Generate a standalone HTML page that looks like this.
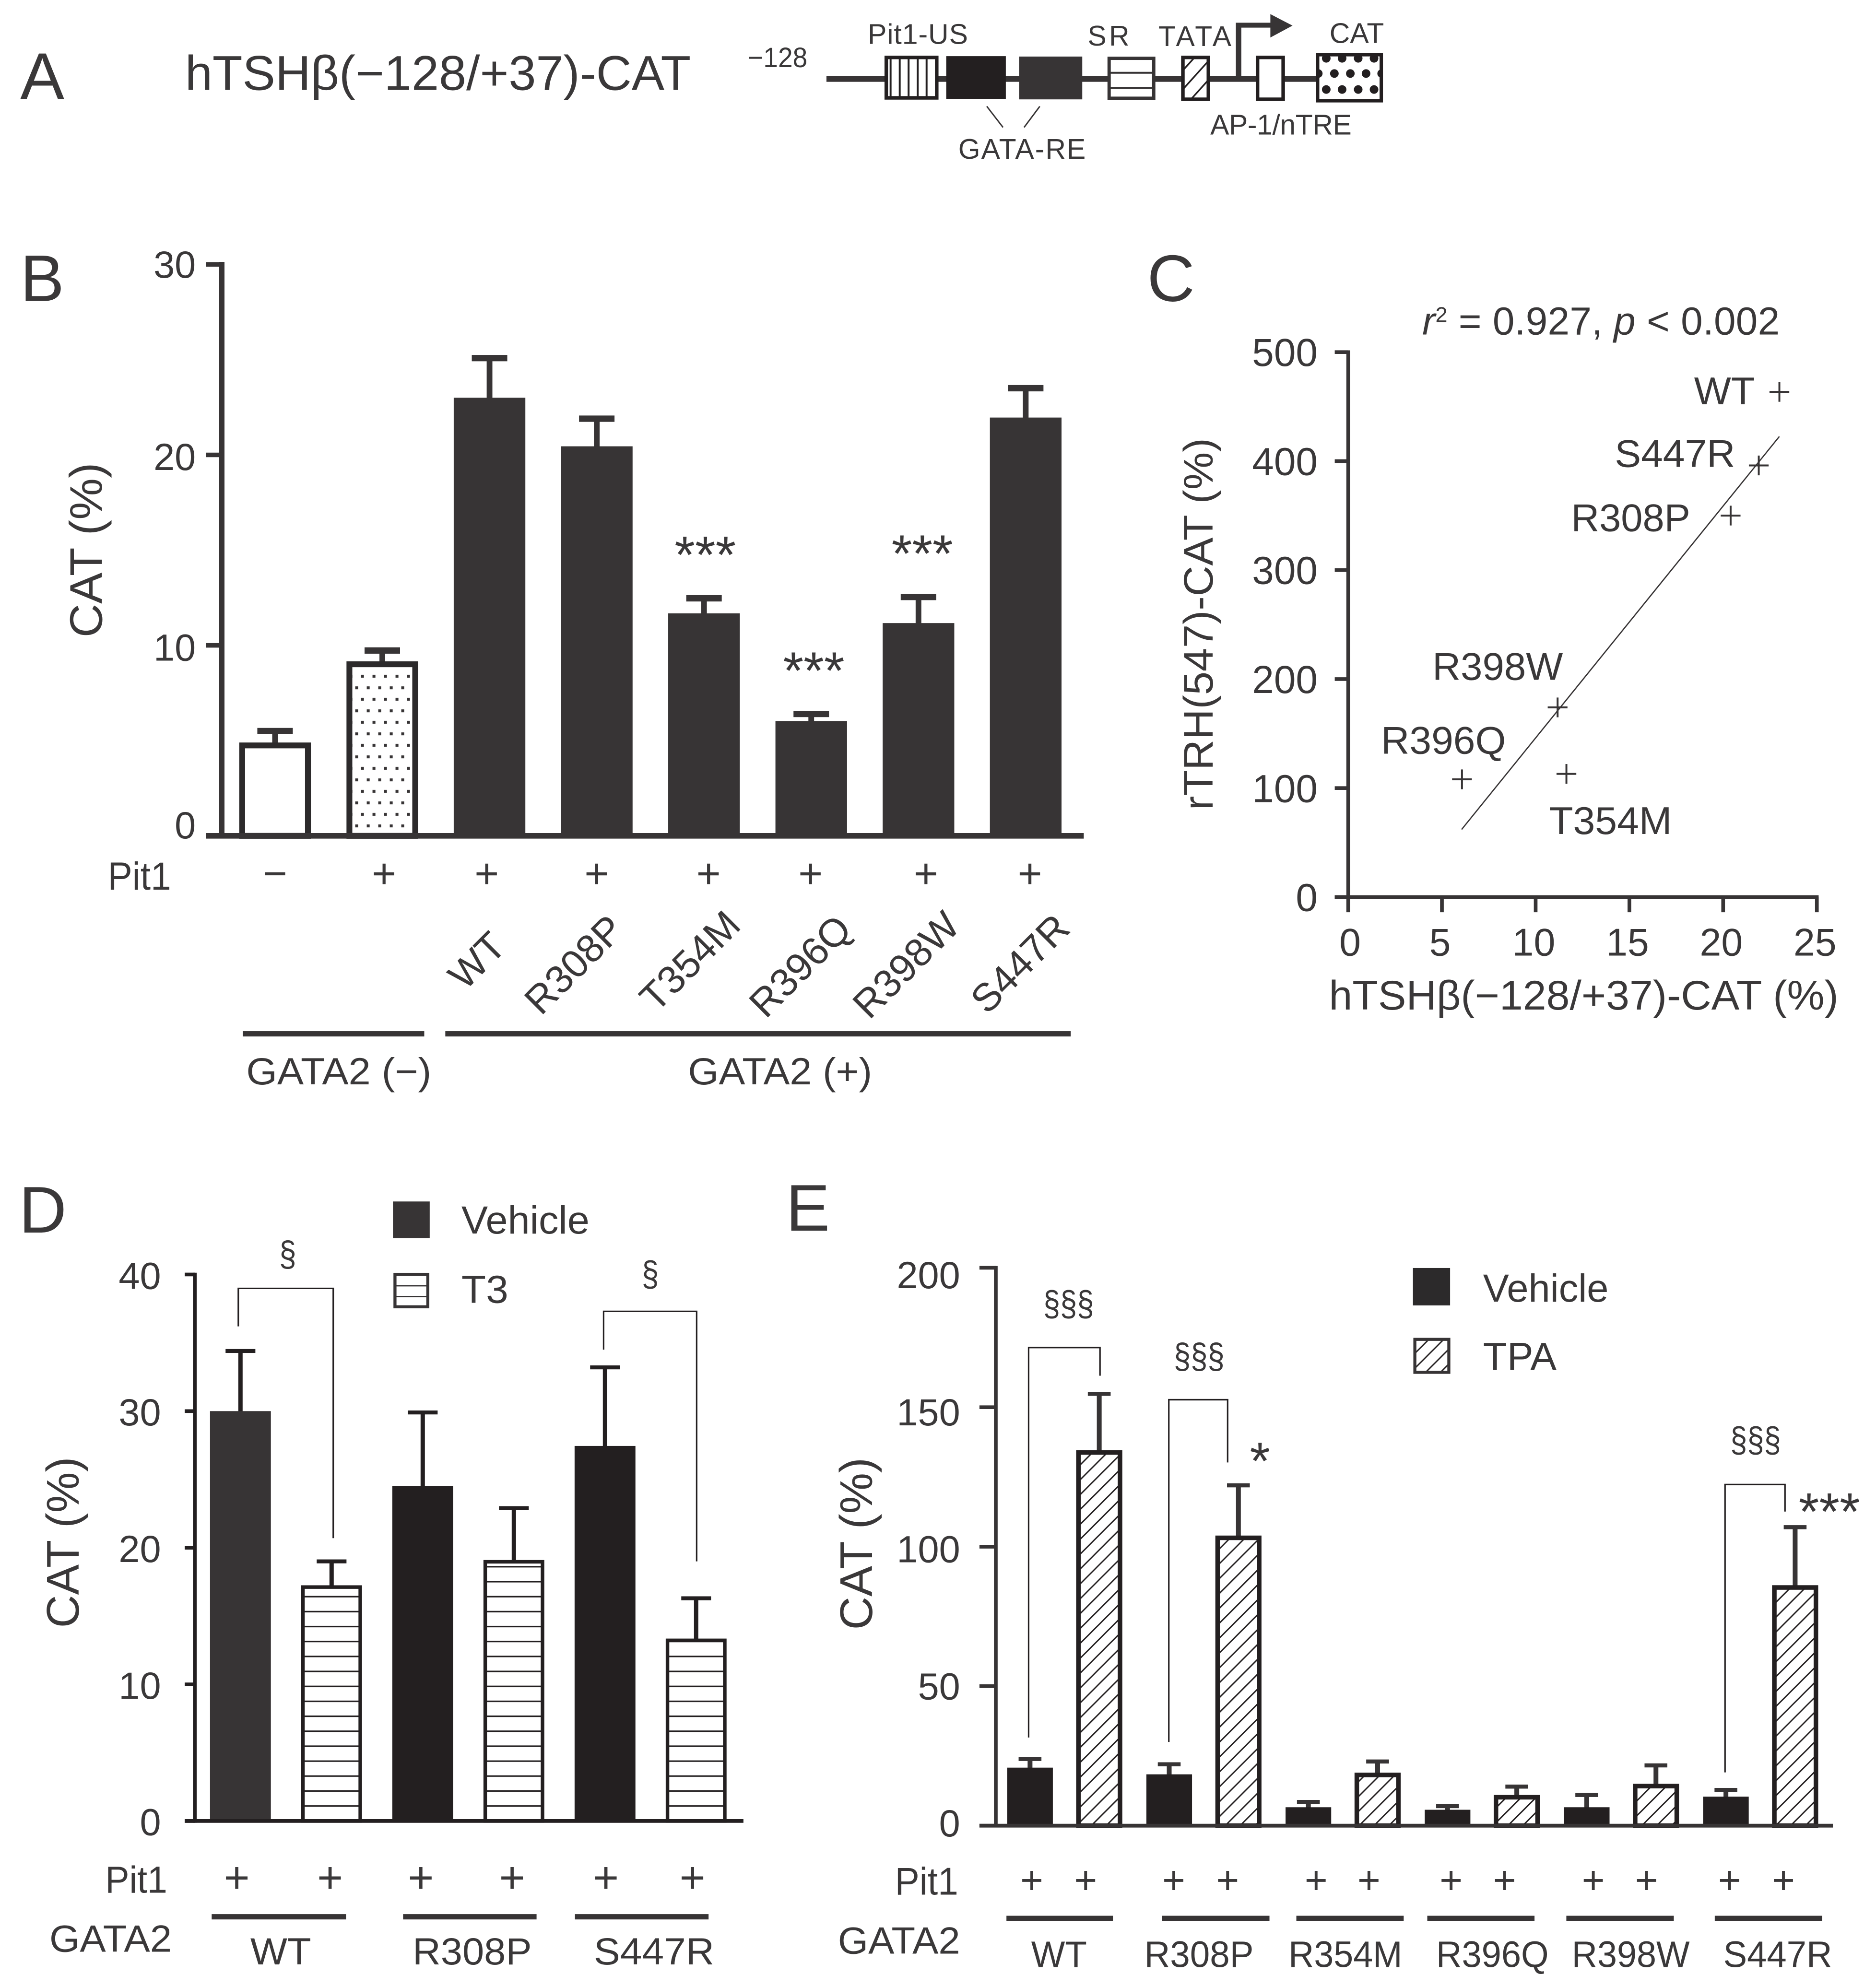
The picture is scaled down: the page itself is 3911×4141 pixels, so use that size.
<!DOCTYPE html>
<html lang="en">
<head>
<meta charset="utf-8">
<title>hTSHβ promoter CAT reporter figure</title>
<style>
html,body{margin:0;padding:0;background:#fff}
svg{display:block}
text{font-family:"Liberation Sans",Arial,sans-serif;fill:#3a3839}
</style>
</head>
<body>
<svg id="figure" xmlns="http://www.w3.org/2000/svg" width="3911" height="4141" viewBox="0 0 1480 1567">
<defs>
<pattern id="dots" patternUnits="userSpaceOnUse" width="9.08" height="18.16" patternTransform="translate(279.4 531.6)">
<rect width="9.08" height="18.16" fill="#fff"/>
<rect x="5.39" y="0.85" width="2.3" height="2.3" fill="#373435"/>
<rect x="0.85" y="9.93" width="2.3" height="2.3" fill="#373435"/>
</pattern>
<pattern id="stripes" patternUnits="userSpaceOnUse" width="20" height="11.8" patternTransform="translate(0 1424.4)">
<rect width="20" height="11.8" fill="#fff"/>
<rect y="0" width="20" height="1.2" fill="#231f20"/>
</pattern>
<pattern id="hatch" patternUnits="userSpaceOnUse" width="8.3" height="8.3" patternTransform="rotate(45)">
<rect width="8.3" height="8.3" fill="#fff"/>
<rect x="0" y="0" width="1.1" height="8.3" fill="#231f20"/>
</pattern>
<pattern id="hatch-small" patternUnits="userSpaceOnUse" width="10" height="10" patternTransform="rotate(42)">
<rect width="10" height="10" fill="#fff"/>
<rect x="0" y="0" width="1.3" height="10" fill="#231f20"/>
</pattern>
<clipPath id="cat-clip"><rect x="1039.5" y="43" width="50.2" height="36.5"/></clipPath>
</defs>

<!-- Panel letters -->
<text x="16" y="78" font-size="52">A</text>
<text x="16" y="237.5" font-size="52">B</text>
<text x="905" y="237.5" font-size="52">C</text>
<text x="15" y="972.5" font-size="52">D</text>
<text x="620" y="971" font-size="52">E</text>

<!-- Panel A schematic -->
<g>
<text x="146" y="71" font-size="38.5" textLength="399" lengthAdjust="spacingAndGlyphs">hTSHβ(−128/+37)-CAT</text>
<text x="590" y="53" font-size="22" textLength="47" lengthAdjust="spacingAndGlyphs">−128</text>
<line x1="652" x2="1040" y1="62.2" y2="62.2" stroke="#373435" stroke-width="4.7"/>
<g>
<rect x="699.2" y="45.3" width="39.8" height="31.9" fill="#fff" stroke="#231f20" stroke-width="2.8"/>
<g stroke="#231f20" stroke-width="1.5"><line x1="702.6" x2="702.6" y1="45" y2="77"/><line x1="709.8" x2="709.8" y1="45" y2="77"/><line x1="716.8" x2="716.8" y1="45" y2="77"/><line x1="724" x2="724" y1="45" y2="77"/><line x1="731" x2="731" y1="45" y2="77"/></g>
</g>
<rect x="746.5" y="44.3" width="47" height="33.7" fill="#231f20"/>
<rect x="804" y="44.6" width="49.8" height="33.8" fill="#373435"/>
<g>
<rect x="875" y="46" width="35.2" height="31.5" fill="#fff" stroke="#373435" stroke-width="2.6"/>
<line x1="875" x2="910" y1="57.4" y2="57.4" stroke="#373435" stroke-width="1.5"/>
<line x1="875" x2="910" y1="69.3" y2="69.3" stroke="#373435" stroke-width="1.5"/>
</g>
<rect x="933.2" y="45.3" width="20.1" height="33" fill="url(#hatch-small)" stroke="#231f20" stroke-width="2.8"/>
<rect x="992.1" y="45.3" width="20.2" height="33" fill="#fff" stroke="#231f20" stroke-width="2.8"/>
<g>
<rect x="1039.5" y="43" width="50.2" height="36.5" fill="#fff" stroke="#231f20" stroke-width="2.6"/>
<g fill="#231f20" clip-path="url(#cat-clip)">
<circle cx="1046.3" cy="46" r="3.4"/><circle cx="1058.8" cy="46" r="3.4"/><circle cx="1071.5" cy="46" r="3.4"/><circle cx="1084" cy="46" r="3.4"/>
<circle cx="1040" cy="58" r="3.4"/><circle cx="1052.7" cy="58" r="3.4"/><circle cx="1065.3" cy="58" r="3.4"/><circle cx="1077.7" cy="58" r="3.4"/><circle cx="1090" cy="58" r="3.4"/>
<circle cx="1046.3" cy="70.6" r="3.4"/><circle cx="1058.8" cy="70.6" r="3.4"/><circle cx="1071.5" cy="70.6" r="3.4"/><circle cx="1084" cy="70.6" r="3.4"/>
</g>
<rect x="1039.5" y="43" width="50.2" height="36.5" fill="none" stroke="#231f20" stroke-width="2.6"/>
<rect x="1038.4" y="41.9" width="52.4" height="2.6" fill="#231f20"/>
</g>
<path d="M975 62V17.9H1002.2V11.1L1019.7 20.2L1002.2 29.6V21.8H979.3V62Z" fill="#373435"/>
<line x1="778.5" y1="83.9" x2="791.3" y2="100.5" stroke="#373435" stroke-width="1.1"/>
<line x1="820.3" y1="83.9" x2="807.9" y2="100.5" stroke="#373435" stroke-width="1.1"/>
<text x="684.6" y="34.7" font-size="22.3" textLength="79" lengthAdjust="spacing">Pit1-US</text>
<text x="858" y="36" font-size="22.3" textLength="33" lengthAdjust="spacing">SR</text>
<text x="913.9" y="36.3" font-size="22.3" textLength="57.5" lengthAdjust="spacing">TATA</text>
<text x="1048.9" y="33.8" font-size="22.3" textLength="43" lengthAdjust="spacing">CAT</text>
<text x="954.8" y="106.2" font-size="22.3" textLength="111.5" lengthAdjust="spacing">AP-1/nTRE</text>
<text x="756" y="125.3" font-size="22.3" textLength="100.5" lengthAdjust="spacing">GATA-RE</text>
</g>

<!-- Panel B -->
<g id="panel-b">
<text transform="translate(80.5 434) rotate(-90)" text-anchor="middle" font-size="36" textLength="138" lengthAdjust="spacingAndGlyphs">CAT (%)</text>
<text x="85" y="702" font-size="31" textLength="50" lengthAdjust="spacingAndGlyphs">Pit1</text>
<g font-size="33" text-anchor="middle">
<text x="217" y="700.5">−</text><text x="303" y="700.5">+</text><text x="384" y="700.5">+</text><text x="470.7" y="700.5">+</text><text x="559" y="700.5">+</text><text x="639.4" y="700.5">+</text><text x="730.5" y="700.5">+</text><text x="812.5" y="700.5">+</text>
</g>
<g font-size="31" text-anchor="middle">
<text transform="translate(376 757.6) rotate(-45)" y="11">WT</text>
<text transform="translate(452.5 760.8) rotate(-45)" y="11">R308P</text>
<text transform="translate(544 758) rotate(-45)" y="11">T354M</text>
<text transform="translate(631 762) rotate(-45)" y="11">R396Q</text>
<text transform="translate(714.5 761) rotate(-45)" y="11">R398W</text>
<text transform="translate(804.5 760) rotate(-45)" y="11">S447R</text>
</g>
<rect x="191.5" y="813.6" width="143.2" height="4.2" fill="#373435"/>
<rect x="351.3" y="813.6" width="493.4" height="4.2" fill="#373435"/>
<text x="194.3" y="855.5" font-size="30" textLength="146" lengthAdjust="spacingAndGlyphs">GATA2 (−)</text>
<text x="542.8" y="855.5" font-size="30" textLength="145.2" lengthAdjust="spacingAndGlyphs">GATA2 (+)</text>
</g>

<!-- Panel C -->
<g id="panel-c">
<text x="1122" y="264" font-size="31" textLength="282" lengthAdjust="spacing"><tspan font-style="italic">r</tspan><tspan font-size="17" dy="-10">2</tspan><tspan dy="10"> = 0.927, </tspan><tspan font-style="italic">p</tspan> &lt; 0.002</text>
<text transform="translate(956.6 492.4) rotate(-90)" text-anchor="middle" font-size="32.5" textLength="293.6" lengthAdjust="spacingAndGlyphs">rTRH(547)-CAT (%)</text>
<text x="1048.4" y="796.5" font-size="32.5" textLength="402" lengthAdjust="spacingAndGlyphs">hTSHβ(−128/+37)-CAT (%)</text>
<text x="1336.5" y="318.9" font-size="30.5" textLength="48" lengthAdjust="spacingAndGlyphs">WT</text>
<text x="1273.9" y="368.3" font-size="30.5" textLength="95" lengthAdjust="spacingAndGlyphs">S447R</text>
<text x="1239.5" y="419" font-size="30.5" textLength="94" lengthAdjust="spacingAndGlyphs">R308P</text>
<text x="1130" y="536.4" font-size="30.5" textLength="103" lengthAdjust="spacingAndGlyphs">R398W</text>
<text x="1089.5" y="594.7" font-size="30.5" textLength="98.5" lengthAdjust="spacingAndGlyphs">R396Q</text>
<text x="1222" y="658" font-size="30.5" textLength="97" lengthAdjust="spacingAndGlyphs">T354M</text>
</g>

<!-- Panel D -->
<g id="panel-d">
<text transform="translate(62 1217) rotate(-90)" text-anchor="middle" font-size="36" textLength="135" lengthAdjust="spacingAndGlyphs">CAT (%)</text>
<g>
<rect x="310" y="948" width="29" height="28.8" fill="#373435"/>
<text x="364" y="973.3" font-size="31" textLength="101" lengthAdjust="spacingAndGlyphs">Vehicle</text>
<g>
<rect x="311.6" y="1005.5" width="25.9" height="25.6" fill="#fff" stroke="#373435" stroke-width="2.4"/>
<line x1="311" x2="338" y1="1014.5" y2="1014.5" stroke="#373435" stroke-width="1.1"/>
<line x1="311" x2="338" y1="1023" y2="1023" stroke="#373435" stroke-width="1.1"/>
</g>
<text x="364" y="1028" font-size="31" textLength="37" lengthAdjust="spacingAndGlyphs">T3</text>
</g>
<text x="83" y="1493.5" font-size="30" textLength="49" lengthAdjust="spacingAndGlyphs">Pit1</text>
<g font-size="35" text-anchor="middle">
<text x="186.8" y="1493.5">+</text><text x="260.4" y="1493.5">+</text><text x="332" y="1493.5">+</text><text x="404" y="1493.5">+</text><text x="478" y="1493.5">+</text><text x="546.3" y="1493.5">+</text>
</g>
<text x="39" y="1540" font-size="30" textLength="96.5" lengthAdjust="spacingAndGlyphs">GATA2</text>
<rect x="167" y="1510.3" width="106" height="4.2" fill="#373435"/>
<rect x="318" y="1510.3" width="105.3" height="4.2" fill="#373435"/>
<rect x="453.6" y="1510.3" width="105.4" height="4.2" fill="#373435"/>
<text x="197.5" y="1550" font-size="30" textLength="48" lengthAdjust="spacingAndGlyphs">WT</text>
<text x="325.5" y="1550" font-size="30" textLength="94" lengthAdjust="spacingAndGlyphs">R308P</text>
<text x="468.5" y="1550" font-size="30" textLength="95" lengthAdjust="spacingAndGlyphs">S447R</text>
</g>

<!-- Panel E -->
<g id="panel-e">
<text transform="translate(688 1218) rotate(-90)" text-anchor="middle" font-size="36" textLength="136" lengthAdjust="spacingAndGlyphs">CAT (%)</text>
<g>
<rect x="1114.7" y="1000.5" width="29.3" height="29.5" fill="#2c2a2b"/>
<text x="1170" y="1027" font-size="31" textLength="99" lengthAdjust="spacingAndGlyphs">Vehicle</text>
<rect x="1116.2" y="1056.8" width="26.8" height="26" fill="url(#hatch)" stroke="#373435" stroke-width="2.4"/>
<text x="1170" y="1081" font-size="31" textLength="58" lengthAdjust="spacingAndGlyphs">TPA</text>
</g>
<text x="706" y="1495" font-size="30.5" textLength="50" lengthAdjust="spacingAndGlyphs">Pit1</text>
<g font-size="31" text-anchor="middle">
<text x="814" y="1494">+</text><text x="856.5" y="1494">+</text><text x="926" y="1494">+</text><text x="968.5" y="1494">+</text><text x="1038.3" y="1494">+</text><text x="1080" y="1494">+</text><text x="1144.8" y="1494">+</text><text x="1187" y="1494">+</text><text x="1257" y="1494">+</text><text x="1299" y="1494">+</text><text x="1364.5" y="1494">+</text><text x="1407" y="1494">+</text>
</g>
<text x="661" y="1541.5" font-size="30" textLength="96.5" lengthAdjust="spacingAndGlyphs">GATA2</text>
<rect x="794" y="1511.6" width="84" height="4.2" fill="#373435"/>
<rect x="916.7" y="1511.6" width="84.8" height="4.2" fill="#373435"/>
<rect x="1022.7" y="1511.6" width="84.7" height="4.2" fill="#373435"/>
<rect x="1126" y="1511.6" width="84.6" height="4.2" fill="#373435"/>
<rect x="1235.7" y="1511.6" width="84.8" height="4.2" fill="#373435"/>
<rect x="1352.8" y="1511.6" width="84.8" height="4.2" fill="#373435"/>
<text x="813.5" y="1552" font-size="29" textLength="44" lengthAdjust="spacingAndGlyphs">WT</text>
<text x="902.7" y="1552" font-size="29" textLength="86.3" lengthAdjust="spacingAndGlyphs">R308P</text>
<text x="1016.5" y="1552" font-size="29" textLength="89.8" lengthAdjust="spacingAndGlyphs">R354M</text>
<text x="1133" y="1552" font-size="29" textLength="88.8" lengthAdjust="spacingAndGlyphs">R396Q</text>
<text x="1240" y="1552" font-size="29" textLength="93" lengthAdjust="spacingAndGlyphs">R398W</text>
<text x="1359.5" y="1552" font-size="29" textLength="85.9" lengthAdjust="spacingAndGlyphs">S447R</text>
</g>
</svg>

<script>
// Panel B data
const bCategories = ['Pit1-', 'Pit1+', 'WT', 'R308P', 'T354M', 'R396Q', 'R398W', 'S447R'];
const bValues = [4.9, 9.16, 23, 20.45, 11.68, 6.03, 11.17, 21.96];
const bErrors = [0.6, 0.57, 2.08, 1.45, 0.79, 0.37, 1.37, 1.54];
const bTicks = [0, 10, 20, 30];
const bSignificance = ['', '', '', '', '***', '***', '***', ''];

// Panel C data
const cNames = ['WT', 'S447R', 'R308P', 'R398W', 'T354M', 'R396Q'];
const cX = [23, 21.9, 20.4, 11.17, 11.64, 6.07];
const cY = [463.5, 396, 350, 174, 113, 108];
const cFitX = [6.05, 23];
const cFitY = [62, 422.6];
const cXTicks = [0, 5, 10, 15, 20, 25];
const cYTicks = [0, 100, 200, 300, 400, 500];

// Panel D data
const dGroups = ['WT', 'R308P', 'S447R'];
const dVehicle = [30, 24.5, 27.45];
const dVehicleErr = [4.4, 5.4, 5.75];
const dT3 = [17.25, 19.1, 13.35];
const dT3Err = [1.75, 3.8, 2.95];
const dTicks = [0, 10, 20, 30, 40];

// Panel E data
const eGroups = ['WT', 'R308P', 'R354M', 'R396Q', 'R398W', 'S447R'];
const eVehicle = [20.8, 18.4, 6.6, 5.7, 6.6, 10.4];
const eVehicleErr = [3.1, 3.6, 1.9, 1.3, 4.4, 2.4];
const eTPA = [134.6, 104, 19, 11, 15, 86.2];
const eTPAErr = [20.2, 18, 4, 3, 6.6, 20.8];
const eTicks = [0, 50, 100, 150, 200];

// Axis functions (user units of the 1480x1567 viewBox)
const xB = i => 217 + 84.6 * i;
const yB = v => 659.5 - v * 15.03;
const xC = v => 1063.6 + v * 14.79;
const yC = v => 707.8 - v * 0.86;
const xD = i => 189.7 + 71.9 * i;
const yD = v => 1436.8 - v * 10.78;
const xE = (g, s) => 812.6 + 109.8 * g + s * 54.6;
const yE = v => 1440.5 - v * 2.201;

const NS = 'http://www.w3.org/2000/svg';
function make(parent, tag, attrs, name) {
  const el = document.createElementNS(NS, tag);
  for (const k in attrs) el.setAttribute(k, attrs[k]);
  
  
  parent.appendChild(el);
  return el;
}
function bar(parent, cx, w, top, base, fill, stroke, sw, name) {
  if (sw) {
    return make(parent, 'rect', {x: cx - w / 2 + sw / 2, y: top + sw / 2, width: w - sw, height: base - top - sw / 2, fill: fill, stroke: stroke, 'stroke-width': sw}, name);
  }
  return make(parent, 'rect', {x: cx - w / 2, y: top, width: w, height: base - top, fill: fill}, name);
}
function errorBar(parent, cx, top, errTop, capW, stem, capH, color, name) {
  const g = make(parent, 'g', {}, name);
  make(g, 'rect', {x: cx - stem / 2, y: errTop, width: stem, height: top - errTop + 1, fill: color}, name + '-stem');
  make(g, 'rect', {x: cx - capW / 2, y: errTop - capH / 2, width: capW, height: capH, fill: color}, name + '-cap');
}
function hLine(parent, x1, x2, y, sw, color, name) {
  make(parent, 'line', {x1: x1, x2: x2, y1: y, y2: y, stroke: color, 'stroke-width': sw}, name);
}
function vLine(parent, x, y1, y2, sw, color, name) {
  make(parent, 'line', {x1: x, x2: x, y1: y1, y2: y2, stroke: color, 'stroke-width': sw}, name);
}
function label(parent, x, y, str, size, anchor, name) {
  const t = make(parent, 'text', {x: x, y: y, 'font-size': size, 'text-anchor': anchor}, name);
  t.textContent = str;
  return t;
}
function section(parent, x, y, str, width, name) {
  const t = label(parent, x, y, str, 28, 'middle', name);
  t.setAttribute('textLength', width);
  t.setAttribute('lengthAdjust', 'spacingAndGlyphs');
}
function bracket(parent, x1, x2, top, leftEnd, rightEnd, name) {
  make(parent, 'path', {d: 'M' + x1 + ' ' + leftEnd + 'V' + top + 'H' + x2 + 'V' + rightEnd, fill: 'none', stroke: '#231f20', 'stroke-width': 1.2}, name);
}

// ---- Panel B ----
(function () {
  const p = document.getElementById('panel-b');
  const styleFill = ['#fff', 'url(#dots)'];
  bCategories.forEach((c, i) => {
    const cx = xB(i), key = 'b-' + c.toLowerCase().replace('+', '-plus').replace('-', '-minus');
    const color = i < 2 ? '#2c2a2b' : '#373435';
    errorBar(p, cx, yB(bValues[i]), yB(bValues[i] + bErrors[i]), 28, 4.5, 5, '#373435', key + '-error-bar');
    if (i < 2) bar(p, cx, 56.5, yB(bValues[i]), yB(0), styleFill[i], color, 4.6, key + '-bar');
    else bar(p, cx, 56.5, yB(bValues[i]), yB(0), color, null, 0, key + '-bar');
    if (bSignificance[i]) label(p, cx + i - 3, yB(bValues[i] + bErrors[i]) - 20, bSignificance[i], 41.5, 'middle', key + '-significance');
  });
  vLine(p, 175, yB(30) - 2, yB(0) + 2, 4.2, '#373435', 'b-y-axis');
  hLine(p, 162.6, 855, yB(0), 4.4, '#373435', 'b-x-axis');
  bTicks.forEach(v => {
    hLine(p, 162.6, 175, yB(v), 3.6, '#373435', 'b-y-tick-' + v);
    label(p, 154.5, yB(v) + (v === 0 ? 2 : v === 30 ? 10.5 : 12), String(v), 30, 'end', 'b-y-tick-label-' + v);
  });
})();

// ---- Panel C ----
(function () {
  const p = document.getElementById('panel-c');
  vLine(p, xC(0), yC(500) - 1.4, yC(0) + 1.4, 2.9, '#373435', 'c-y-axis');
  hLine(p, 1053, xC(25) + 1.4, yC(0), 2.9, '#373435', 'c-x-axis');
  cYTicks.forEach(v => {
    hLine(p, 1053, xC(0), yC(v), 2.9, '#373435', 'c-y-tick-' + v);
    label(p, 1039.5, yC(v) + 11, String(v), 31, 'end', 'c-y-tick-label-' + v);
  });
  cXTicks.forEach(v => {
    vLine(p, xC(v), yC(0), yC(0) + 12, 2.9, '#373435', 'c-x-tick-' + v);
    label(p, xC(v) + (v === 0 ? 1.5 : -1.5), 754, String(v), 30.5, 'middle', 'c-x-tick-label-' + v);
  });
  make(p, 'line', {x1: xC(cFitX[0]), y1: yC(cFitY[0]), x2: xC(cFitX[1]), y2: yC(cFitY[1]), stroke: '#373435', 'stroke-width': 1}, 'c-regression-line');
  cNames.forEach((n, i) => {
    const g = make(p, 'g', {}, 'c-point-' + n.toLowerCase());
    hLine(g, xC(cX[i]) - 7.8, xC(cX[i]) + 7.8, yC(cY[i]), 1.5, '#373435', 'c-point-h');
    vLine(g, xC(cX[i]), yC(cY[i]) - 7.8, yC(cY[i]) + 7.8, 1.5, '#373435', 'c-point-v');
  });
})();

// ---- Panel D ----
(function () {
  const p = document.getElementById('panel-d');
  dGroups.forEach((g, i) => {
    const key = 'd-' + g.toLowerCase();
    const c1 = xD(2 * i), c2 = xD(2 * i + 1);
    errorBar(p, c1, yD(dVehicle[i]), yD(dVehicle[i] + dVehicleErr[i]), 23.5, 3.4, 3.1, '#231f20', key + '-vehicle-error-bar');
    bar(p, c1, 48, yD(dVehicle[i]), yD(0), i === 0 ? '#373435' : '#231f20', null, 0, key + '-vehicle-bar');
    errorBar(p, c2, yD(dT3[i]), yD(dT3[i] + dT3Err[i]), 23.5, 3.4, 3.1, '#231f20', key + '-t3-error-bar');
    bar(p, c2, 48, yD(dT3[i]), yD(0), 'url(#stripes)', '#231f20', 2.8, key + '-t3-bar');
  });
  vLine(p, 153.7, yD(40) - 1.4, yD(0) + 1.4, 2.9, '#231f20', 'd-y-axis');
  hLine(p, 145.7, 586.5, yD(0), 2.9, '#231f20', 'd-x-axis');
  dTicks.forEach(v => {
    hLine(p, 145.7, 153.7, yD(v), 2.9, '#231f20', 'd-y-tick-' + v);
    label(p, 127, yD(v) + 11.3, String(v), 30, 'end', 'd-y-tick-label-' + v);
  });
  bracket(p, xD(0) - 1.7, xD(1) + 1.3, yD(38.98), yD(36.2), yD(20.7), 'd-wt-bracket');
  bracket(p, xD(4) - 1.1, xD(5) + 0.4, yD(37.3), yD(34.5), yD(19), 'd-s447r-bracket');
  section(p, 227, yD(38.98) - 17.5, '§', 13.5, 'd-wt-significance');
  section(p, 513, yD(37.3) - 20, '§', 13.5, 'd-s447r-significance');
})();

// ---- Panel E ----
(function () {
  const p = document.getElementById('panel-e');
  eGroups.forEach((g, i) => {
    const key = 'e-' + g.toLowerCase();
    const c1 = xE(i, 0), c2 = xE(i, 1);
    errorBar(p, c1, yE(eVehicle[i]), yE(eVehicle[i] + eVehicleErr[i]), 18, 3.8, 3.2, '#373435', key + '-vehicle-error-bar');
    bar(p, c1, 36, yE(eVehicle[i]), yE(0), '#231f20', null, 0, key + '-vehicle-bar');
    errorBar(p, c2, yE(eTPA[i]), yE(eTPA[i] + eTPAErr[i]), 18, 3.8, 3.2, '#373435', key + '-tpa-error-bar');
    bar(p, c2, 36.4, yE(eTPA[i]), yE(0), 'url(#hatch)', '#231f20', 3.6, key + '-tpa-bar');
  });
  vLine(p, 785.6, yE(200) - 1.4, yE(0) + 1.4, 2.9, '#373435', 'e-y-axis');
  hLine(p, 772.7, 1446, yE(0), 3, '#373435', 'e-x-axis');
  eTicks.forEach(v => {
    hLine(p, 772.7, 785.6, yE(v), 2.9, '#373435', 'e-y-tick-' + v);
    label(p, 757.5, 1449 - v * 2.1625, String(v), 30, 'end', 'e-y-tick-label-' + v);
  });
  bracket(p, xE(0, 0) - 1.1, xE(0, 1) + 0.6, yE(171.4), yE(31.6), yE(161.3), 'e-wt-bracket');
  bracket(p, xE(1, 0) - 0.3, xE(1, 1) - 8.5, yE(152.7), yE(30), yE(130.2), 'e-r308p-bracket');
  bracket(p, xE(5, 0) - 0.7, xE(5, 1) - 8, yE(122.3), yE(19.1), yE(112.6), 'e-s447r-bracket');
  section(p, 843, yE(171.4) - 25, '§§§', 40, 'e-wt-significance');
  section(p, 946, yE(152.7) - 24.7, '§§§', 40, 'e-r308p-significance');
  section(p, 1385, yE(122.3) - 25.6, '§§§', 40, 'e-s447r-significance');
  label(p, xE(1, 1) + 17, yE(eTPA[1] + eTPAErr[1]) - 5, '*', 41.5, 'middle', 'e-r308p-star');
  label(p, xE(5, 1) + 27, yE(eTPA[5] + eTPAErr[5]) + 2, '***', 41.5, 'middle', 'e-s447r-stars');
})();
</script>
</body>
</html>
